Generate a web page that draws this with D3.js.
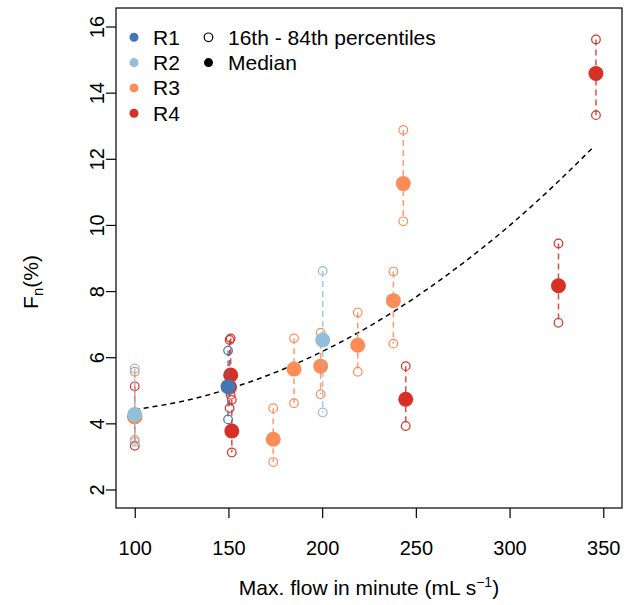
<!DOCTYPE html>
<html>
<head>
<meta charset="utf-8">
<script src="https://cdn.jsdelivr.net/npm/d3@7"></script>
<style>
  body { margin: 0; background: #fff; }
  text { font-family: "Liberation Sans", Arial, sans-serif; fill: #000; }
</style>
</head>
<body>
<div id="chart"></div>
<script>
// Data
const regions = ["R1", "R2", "R3", "R4"];
const regionColors = ["#4575B4", "#91BFDB", "#FC8D59", "#D73027"];

const ptRegion = ["R1", "R2", "R2", "R3", "R3", "R3", "R3", "R3", "R3", "R3",
                  "R4", "R4", "R4", "R4", "R4", "R4", "R4"];
const ptFlow   = [149.8, 100, 200.3, 100, 173.9, 185, 199.2, 219, 238, 243.3,
                  100, 151.2, 150.6, 151.8, 244.6, 326.1, 346.1];
const ptMedian = [5.11, 4.27, 6.52, 4.2, 3.52, 5.64, 5.73, 6.36, 7.71, 11.25,
                  4.2, 5.46, 5.1, 3.77, 4.73, 8.16, 14.58];
const ptP16    = [4.12, 3.44, 4.33, 3.5, 2.83, 4.61, 4.88, 5.56, 6.41, 10.11,
                  3.32, 4.86, 4.46, 3.12, 3.92, 7.04, 13.32];
const ptP84    = [6.2, 5.66, 8.61, 5.56, 4.46, 6.57, 6.74, 7.35, 8.59, 12.87,
                  5.12, 6.57, 6.52, 4.71, 5.73, 9.44, 15.61];

// dashed fit curve
const fitFlow = [100, 125, 150, 175, 200, 225, 250, 275, 300, 325, 345];
const fitFn   = [4.42, 4.66, 5.04, 5.54, 6.17, 6.93, 7.82, 8.84, 9.98, 11.26, 12.37];

const xTicks = [100, 150, 200, 250, 300, 350];
const yTicks = [2, 4, 6, 8, 10, 12, 14, 16];

const W = 625, H = 605;
const plot = { left: 116, right: 622, top: 8, bottom: 508 };

const svg = d3.select("#chart").append("svg")
    .attr("width", W)
    .attr("height", H);

const x = d3.scaleLinear().domain([90, 360]).range([plot.left, plot.right]);
const y = d3.scaleLinear().domain([1.44, 16.56]).range([plot.bottom, plot.top]);
const color = d3.scaleOrdinal().domain(regions).range(regionColors);

// axes
const xAxis = svg.append("g")
    .attr("transform", `translate(0,${plot.bottom})`)
    .call(d3.axisBottom(x).tickValues(xTicks).tickSize(10).tickPadding(23));
xAxis.select(".domain").remove();
xAxis.selectAll("line").attr("stroke", "#000").attr("stroke-width", 1.2);
xAxis.selectAll("text").style("font-size", "20px").attr("fill", "#000");

const yAxis = svg.append("g")
    .attr("transform", `translate(${plot.left},0)`)
    .call(d3.axisLeft(y).tickValues(yTicks).tickSize(10));
yAxis.select(".domain").remove();
yAxis.selectAll("line").attr("stroke", "#000").attr("stroke-width", 1.2);
yAxis.selectAll("text")
    .style("font-size", "20px")
    .attr("fill", "#000")
    .attr("text-anchor", "middle")
    .attr("x", 0).attr("y", -12).attr("dy", 0)
    .attr("transform", "rotate(-90)");

// box
svg.append("rect")
    .attr("x", plot.left).attr("y", plot.top)
    .attr("width", plot.right - plot.left)
    .attr("height", plot.bottom - plot.top)
    .attr("fill", "none").attr("stroke", "#000").attr("stroke-width", 1.2);

// axis titles
const xt = svg.append("text")
    .attr("x", (plot.left + plot.right) / 2).attr("y", 595)
    .attr("text-anchor", "middle").style("font-size", "21px");
xt.append("tspan").text("Max. flow in minute (mL s");
xt.append("tspan").attr("dy", -8).style("font-size", "14px").text("\u22121");
xt.append("tspan").attr("dy", 8).text(")");

const yt = svg.append("text")
    .attr("transform", "translate(38,282) rotate(-90)")
    .attr("text-anchor", "middle").style("font-size", "21px");
yt.append("tspan").text("F");
yt.append("tspan").attr("dy", 5).style("font-size", "15px").text("n");
yt.append("tspan").attr("dy", -5).text("(%)");

// fit curve
const fitPts = fitFlow.map((f, i) => [f, fitFn[i]]);
svg.append("path")
    .attr("d", d3.line().x(d => x(d[0])).y(d => y(d[1])).curve(d3.curveMonotoneX)(fitPts))
    .attr("fill", "none").attr("stroke", "#000")
    .attr("stroke-width", 1.5).attr("stroke-dasharray", "5,4");

// points, drawn R4 first so R1 ends on top
const pts = ptRegion.map((r, i) => ({
    region: r, flow: ptFlow[i], med: ptMedian[i], lo: ptP16[i], hi: ptP84[i]
}));

regions.slice().reverse().forEach(r => {
    const g = svg.append("g");
    const d = pts.filter(p => p.region === r);

    g.selectAll(".bar").data(d).enter().append("line")
        .attr("x1", p => x(p.flow)).attr("x2", p => x(p.flow))
        .attr("y1", p => y(p.hi)).attr("y2", p => y(p.lo))
        .attr("stroke", color(r)).attr("stroke-width", 1.5)
        .attr("stroke-dasharray", "6,4").attr("opacity", 0.85);

    g.selectAll(".hi").data(d).enter().append("circle")
        .attr("cx", p => x(p.flow)).attr("cy", p => y(p.hi)).attr("r", 4.3)
        .attr("fill", "none").attr("stroke", color(r)).attr("stroke-width", 1.2);

    g.selectAll(".lo").data(d).enter().append("circle")
        .attr("cx", p => x(p.flow)).attr("cy", p => y(p.lo)).attr("r", 4.3)
        .attr("fill", "none").attr("stroke", color(r)).attr("stroke-width", 1.2);

    g.selectAll(".med").data(d).enter().append("circle")
        .attr("cx", p => x(p.flow)).attr("cy", p => y(p.med)).attr("r", 7.5)
        .attr("fill", color(r));
});

// legend
const legend = svg.append("g");
regions.forEach((r, i) => {
    const ly = 37.3 + i * 25.3;
    legend.append("circle").attr("cx", 134).attr("cy", ly).attr("r", 4.5).attr("fill", color(r));
    legend.append("text").attr("x", 153).attr("y", ly + 7.5).style("font-size", "21px").text(r);
});
legend.append("circle").attr("cx", 208.5).attr("cy", 37.3).attr("r", 4.3)
    .attr("fill", "none").attr("stroke", "#000").attr("stroke-width", 1.2);
legend.append("text").attr("x", 228).attr("y", 44.8).style("font-size", "21px").text("16th - 84th percentiles");
legend.append("circle").attr("cx", 208.5).attr("cy", 62.6).attr("r", 4.5).attr("fill", "#000");
legend.append("text").attr("x", 228).attr("y", 70.1).style("font-size", "21px").text("Median");
</script>
</body>
</html>
